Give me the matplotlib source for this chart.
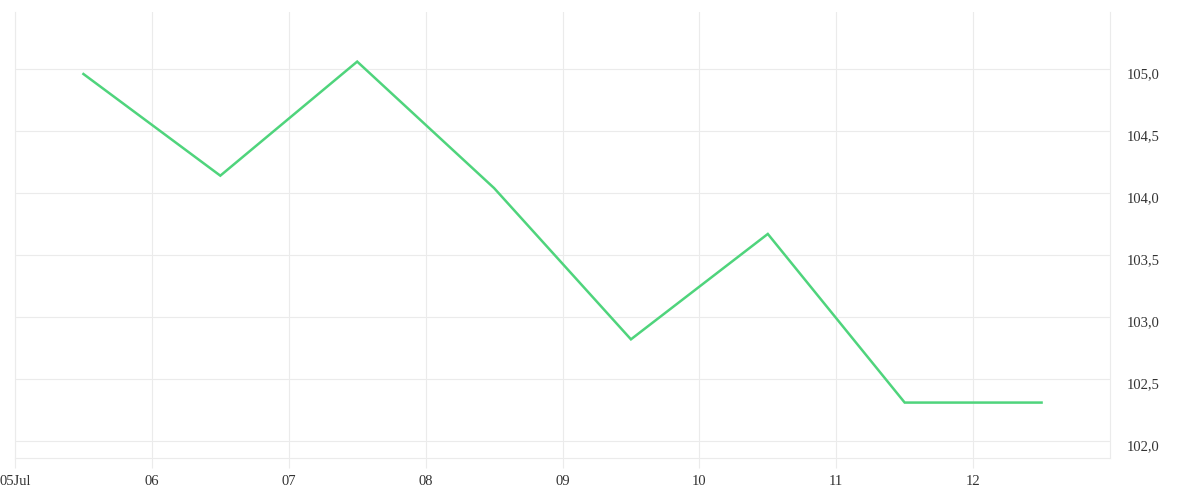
import matplotlib
matplotlib.use("Agg")
import matplotlib.pyplot as plt
import matplotlib.transforms as mtransforms
from datetime import datetime

dates = ["2023-07-05 12:00", "2023-07-06 12:00", "2023-07-07 12:00", "2023-07-08 12:00",
         "2023-07-09 12:00", "2023-07-10 12:00", "2023-07-11 12:00", "2023-07-12 12:00"]
values = [104.96, 104.14, 105.06, 104.04, 102.82, 103.67, 102.31, 102.31]

tick_dates = ["2023-07-05", "2023-07-06", "2023-07-07", "2023-07-08",
              "2023-07-09", "2023-07-10", "2023-07-11", "2023-07-12"]
tick_labels = ["05Jul", "06", "07", "08", "09", "10", "11", "12"]
y_ticks = [102.0, 102.5, 103.0, 103.5, 104.0, 104.5, 105.0]

x = [datetime.strptime(d, "%Y-%m-%d %H:%M") for d in dates]
xt = [datetime.strptime(d, "%Y-%m-%d") for d in tick_dates]

grid_color = "#ebebeb"
text_color = "#333333"
plt.rcParams['font.family'] = ['Liberation Serif', 'DejaVu Serif']

fig = plt.figure(figsize=(12, 5), dpi=100)
ax = fig.add_axes([15 / 1200, 42 / 500, 1095 / 1200, 446 / 500])

ax.plot(x, values, color="#4fd47c", linewidth=1.8, solid_joinstyle="miter", zorder=3)

ax.set_xlim(datetime(2023, 7, 5), datetime(2023, 7, 13))
ax.set_ylim(101.863, 105.46)

ax.set_xticks(xt)
ax.set_xticklabels(tick_labels)
ax.set_yticks(y_ticks)
ax.set_yticklabels([f"{v:.1f}".replace(".", ",") for v in y_ticks])

ax.yaxis.tick_right()
ax.grid(True, color=grid_color, linewidth=0.8)
ax.tick_params(axis="x", length=7.5, width=0.8, color=grid_color, pad=5,
               labelsize=10.5, labelcolor=text_color)
ax.tick_params(axis="y", length=0, pad=12, labelsize=10.5, labelcolor=text_color)

# push y labels a little below the gridline
offset = mtransforms.ScaledTranslation(0, -3 / 72, fig.dpi_scale_trans)
for lab in ax.get_yticklabels():
    lab.set_transform(lab.get_transform() + offset)

for side in ["left", "right", "bottom"]:
    ax.spines[side].set_color(grid_color)
    ax.spines[side].set_linewidth(0.8)
ax.spines["top"].set_visible(False)

fig.savefig("out.png", dpi=100, facecolor="white")
